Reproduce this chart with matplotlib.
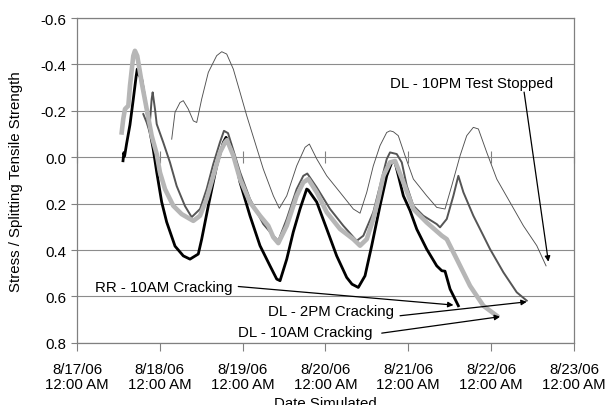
import numpy as np
import matplotlib
matplotlib.use("Agg")
import matplotlib.pyplot as plt
import matplotlib.dates as mdates
from matplotlib.ticker import FuncFormatter

plt.rcParams["font.family"] = ["Liberation Sans", "DejaVu Sans"]
plt.rcParams["axes.unicode_minus"] = False

# --- Data: time in days after 8/17/06 12:00 AM, stress ratio ---
rr_10am_t = [0.556, 0.566, 0.575, 0.600, 0.640, 0.680, 0.715, 0.728, 0.749, 0.781,
             0.821, 0.882, 0.921, 0.963, 1.023, 1.083, 1.184, 1.284, 1.365, 1.465,
             1.506, 1.586, 1.687, 1.767, 1.800, 1.848, 1.929, 1.969, 2.089, 2.210,
             2.331, 2.412, 2.452, 2.533, 2.612, 2.693, 2.774, 2.793, 2.895, 3.016,
             3.136, 3.257, 3.321, 3.397, 3.478, 3.559, 3.659, 3.740, 3.801, 3.841,
             3.941, 4.022, 4.103, 4.223, 4.344, 4.405, 4.444, 4.505, 4.605]
rr_10am_s = [0.015, -0.02, -0.005, -0.06, -0.14, -0.25, -0.35, -0.38, -0.355, -0.337,
             -0.251, -0.109, -0.035, 0.064, 0.193, 0.279, 0.383, 0.425, 0.439, 0.417,
             0.353, 0.209, 0.037, -0.064, -0.086, -0.057, 0.037, 0.108, 0.252, 0.381,
             0.468, 0.525, 0.532, 0.439, 0.322, 0.223, 0.137, 0.141, 0.193, 0.309,
             0.425, 0.518, 0.547, 0.561, 0.511, 0.381, 0.209, 0.080, 0.022, 0.022,
             0.166, 0.23, 0.31, 0.396, 0.468, 0.489, 0.491, 0.568, 0.640]

dl_10am_t = [0.540, 0.559, 0.580, 0.620, 0.640, 0.680, 0.700, 0.728, 0.781, 0.842,
             0.902, 0.963, 1.002, 1.063, 1.163, 1.264, 1.365, 1.405, 1.486, 1.566,
             1.646, 1.727, 1.787, 1.812, 1.888, 1.969, 2.089, 2.210, 2.310, 2.370,
             2.431, 2.533, 2.653, 2.733, 2.793, 2.895, 3.016, 3.176, 3.337, 3.418,
             3.499, 3.578, 3.639, 3.700, 3.780, 3.841, 3.941, 4.062, 4.223, 4.405,
             4.465, 4.586, 4.746, 4.907, 5.069]
dl_10am_s = [-0.107, -0.165, -0.208, -0.222, -0.308, -0.437, -0.459, -0.437, -0.323, -0.208,
             -0.093, -0.014, 0.065, 0.137, 0.209, 0.245, 0.266, 0.274, 0.252, 0.180,
             0.080, -0.021, -0.064, -0.074, -0.007, 0.094, 0.194, 0.252, 0.295, 0.344,
             0.370, 0.295, 0.166, 0.108, 0.094, 0.151, 0.237, 0.309, 0.353, 0.381,
             0.353, 0.266, 0.180, 0.080, 0.022, 0.016, 0.108, 0.223, 0.281, 0.338,
             0.353, 0.439, 0.554, 0.640, 0.683]

dl_2pm_t = [0.801, 0.842, 0.873, 0.902, 0.914, 0.942, 0.963, 1.042, 1.123, 1.204,
            1.304, 1.385, 1.486, 1.566, 1.646, 1.727, 1.775, 1.824, 1.884, 1.969,
            2.089, 2.250, 2.370, 2.431, 2.533, 2.653, 2.733, 2.781, 2.895, 3.056,
            3.216, 3.378, 3.458, 3.578, 3.659, 3.740, 3.780, 3.861, 3.922, 3.982,
            4.062, 4.182, 4.344, 4.384, 4.465, 4.545, 4.605, 4.666, 4.786, 4.907,
            4.988, 5.149, 5.310, 5.431]
dl_2pm_s = [-0.186, -0.150, -0.114, -0.251, -0.280, -0.208, -0.143, -0.064, 0.022, 0.124,
            0.210, 0.258, 0.223, 0.137, 0.029, -0.065, -0.114, -0.104, -0.035, 0.064,
            0.180, 0.288, 0.338, 0.360, 0.266, 0.137, 0.080, 0.070, 0.130, 0.223,
            0.295, 0.360, 0.338, 0.237, 0.123, 0.008, -0.021, -0.014, 0.022, 0.123,
            0.209, 0.252, 0.288, 0.302, 0.266, 0.166, 0.080, 0.151, 0.252, 0.338,
            0.396, 0.496, 0.582, 0.618]

dl_10pm_t = [1.144, 1.184, 1.244, 1.284, 1.344, 1.405, 1.446, 1.506, 1.586, 1.687,
             1.748, 1.808, 1.888, 1.969, 2.050, 2.150, 2.250, 2.371, 2.443, 2.533,
             2.653, 2.754, 2.806, 2.895, 3.016, 3.176, 3.337, 3.418, 3.499, 3.578,
             3.659, 3.740, 3.780, 3.820, 3.880, 3.961, 4.062, 4.223, 4.344, 4.444,
             4.525, 4.626, 4.706, 4.786, 4.847, 4.948, 5.069, 5.229, 5.390, 5.552,
             5.664]
dl_10pm_s = [-0.078, -0.194, -0.236, -0.244, -0.208, -0.157, -0.150, -0.251, -0.366, -0.438,
             -0.455, -0.445, -0.380, -0.280, -0.179, -0.064, 0.051, 0.166, 0.220, 0.166,
             0.037, -0.043, -0.057, 0.007, 0.080, 0.151, 0.223, 0.241, 0.151, 0.037,
             -0.050, -0.107, -0.114, -0.110, -0.093, -0.007, 0.094, 0.166, 0.216, 0.223,
             0.123, -0.007, -0.093, -0.129, -0.122, -0.021, 0.094, 0.194, 0.295, 0.381,
             0.468]

y_ticks = [-0.6, -0.4, -0.2, 0.0, 0.2, 0.4, 0.6, 0.8]
day_ticks = [0, 1, 2, 3, 4, 5, 6]

base = mdates.date2num(np.datetime64("2006-08-17T00:00"))
FS = 10.8


def to_x(days):
    return base + np.asarray(days, dtype=float)


fig = plt.figure(figsize=(6.06, 4.06), dpi=100)
ax = fig.add_axes([0.127, 0.153, 0.820, 0.800])

# series, drawn back to front
ax.plot(to_x(dl_10pm_t), dl_10pm_s, color="#505050", lw=0.65)
ax.plot(to_x(dl_2pm_t), dl_2pm_s, color="#555555", lw=1.4)
ax.plot(to_x(rr_10am_t), rr_10am_s, color="#000000", lw=2.0)
ax.plot(to_x(dl_10am_t), dl_10am_s, color="#b6b6b6", lw=3.3)

ax.set_xlim(to_x(day_ticks[0]), to_x(day_ticks[-1]))
ax.set_ylim(y_ticks[-1], y_ticks[0])  # inverted: compression up
ax.set_yticks(y_ticks)
ax.yaxis.set_major_formatter(FuncFormatter(lambda v, p: f"{v:.1f}"))
ax.set_xticks(to_x(day_ticks))


def date_label(v, pos):
    d = mdates.num2date(v)
    return f"{d.month}/{d.day}/{d:%y}\n{d:%I:%M %p}"


ax.xaxis.set_major_formatter(FuncFormatter(date_label))
for lbl in ax.get_xticklabels():
    lbl.set_linespacing(1.1)

ax.grid(axis="y", color="#8c8c8c", lw=0.8)
ax.set_axisbelow(True)
for sp in ax.spines.values():
    sp.set_color("#808080")
    sp.set_linewidth(0.9)
ax.tick_params(axis="both", colors="#808080", labelcolor="black", labelsize=FS,
               length=4, width=0.8)
ax.tick_params(axis="x", length=6, pad=8)

# category axis crossing at zero
sec = ax.secondary_xaxis(0.0, transform=ax.transData)
sec.set_xticks(to_x(day_ticks))
sec.tick_params(direction="inout", length=8, width=0.8, colors="#808080",
                labelbottom=False, labeltop=False)
sec.spines["bottom"].set_visible(False)
sec.spines["top"].set_visible(False)

ax.set_ylabel("Stress / Splitting Tensile Strength", fontsize=FS, labelpad=13)
ax.set_xlabel("Date Simulated", fontsize=FS, labelpad=3)

# callouts
arrow = dict(arrowstyle="-|>", color="black", lw=0.9, mutation_scale=8,
             shrinkA=0, shrinkB=0)
ax.text(to_x(4.767), -0.320, "DL - 10PM Test Stopped", fontsize=FS,
        ha="center", va="center")
ax.annotate("", xy=(to_x(5.692), 0.450), xytext=(to_x(5.399), -0.281),
            arrowprops=arrow)
ax.text(to_x(1.880), 0.557, "RR - 10AM Cracking", fontsize=FS,
        ha="right", va="center")
ax.annotate("", xy=(to_x(4.546), 0.637), xytext=(to_x(1.948), 0.557),
            arrowprops=arrow)
ax.text(to_x(3.829), 0.662, "DL - 2PM Cracking", fontsize=FS,
        ha="right", va="center")
ax.annotate("", xy=(to_x(5.431), 0.623), xytext=(to_x(3.901), 0.683),
            arrowprops=arrow)
ax.text(to_x(3.571), 0.752, "DL - 10AM Cracking", fontsize=FS,
        ha="right", va="center")
ax.annotate("", xy=(to_x(5.109), 0.687), xytext=(to_x(3.680), 0.758),
            arrowprops=arrow)

fig.savefig("out.png", dpi=100)
